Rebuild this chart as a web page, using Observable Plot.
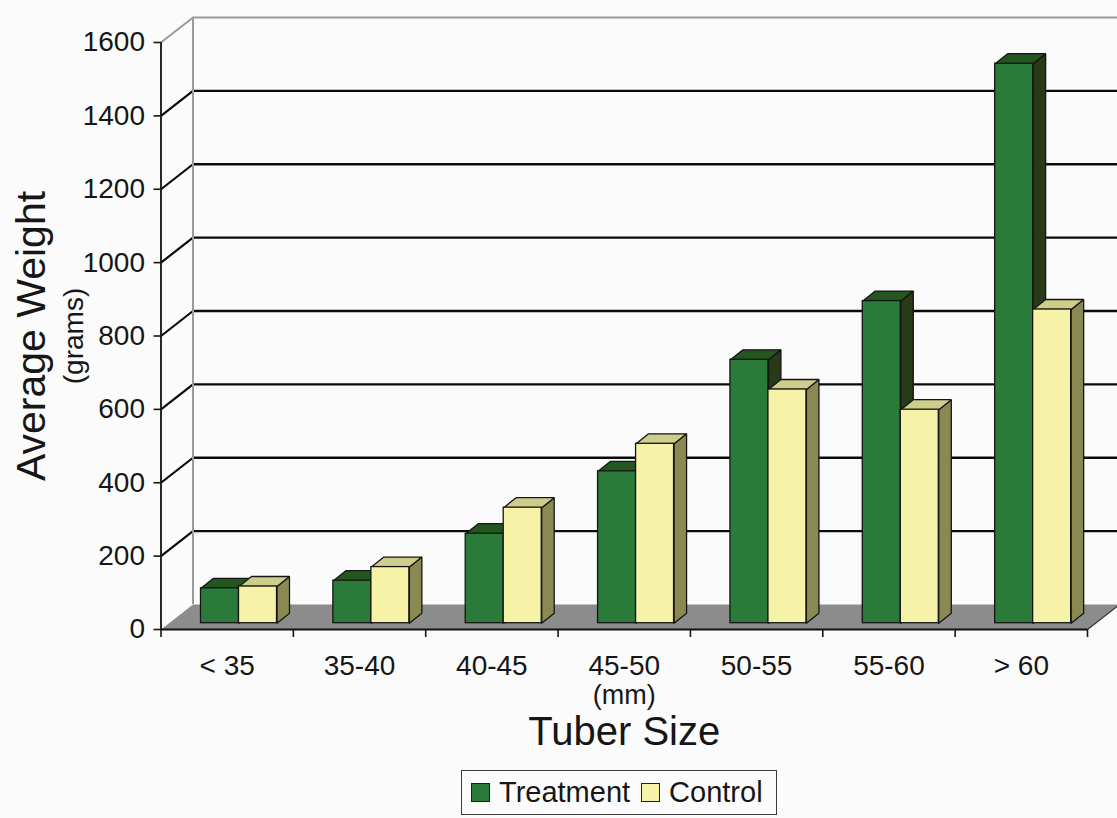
<!DOCTYPE html>
<html>
<head>
<meta charset="utf-8">
<script src="https://cdn.jsdelivr.net/npm/d3@7"></script>
<script src="https://cdn.jsdelivr.net/npm/@observablehq/plot@0.6"></script>
<style>
  html, body { margin: 0; padding: 0; background: #fbfbfb; overflow: hidden; }
  body { width: 1117px; height: 818px; position: relative; font-family: "Liberation Sans", Arial, sans-serif; color: #161616; }
  #legend { position: absolute; left: 461px; top: 770px; width: 316px; height: 45px; box-sizing: border-box;
            border: 1.5px solid #3c3c3c; display: flex; align-items: center; padding-left: 9px;
            font-size: 29px; background: #fbfbfb; }
  #legend .item { display: flex; align-items: center; margin-right: 11px; white-space: nowrap; }
  #legend .sw { width: 19px; height: 19px; border: 1px solid #1e1e1e; margin-right: 9px; box-sizing: border-box; }
</style>
</head>
<body>
<div id="chart"></div>
<div id="legend"></div>
<script>
// ---- data ----
const categories = ["< 35", "35-40", "40-45", "45-50", "50-55", "55-60", "> 60"];
const treatment = [95, 116, 244, 414, 718, 878, 1525];
const control   = [100, 153, 315, 489, 637, 582, 855];
const seriesNames = ["Treatment", "Control"];
const yTicks = [0, 200, 400, 600, 800, 1000, 1200, 1400, 1600];

// ---- styles / layout ----
const palette = {
  Treatment: {front: "#2a7a3a", top: "#24561f", side: "#283a18"},
  Control:   {front: "#f6f3a8", top: "#cfcd8c", side: "#8b8952"}
};
const W = 1117, H = 762;
const M = {top: 42, right: 30, bottom: 133, left: 160.5};
const yMax = 1600;
const kx = (W - M.left - M.right) / categories.length;   // px per category
const ky = (H - M.top - M.bottom) / yMax;                 // px per gram
const ux = 1 / kx, uy = 1 / ky;                           // data units per px
const wall = {dx: 32 * ux, dy: 25 * uy};                  // floor / wall depth
const barLead = 40 * ux, barW = 38 * ux;                  // bar placement within category
const barBase = 6.3 * uy;                                 // bars sit a little behind the front edge
const depth = {dx: 12.5 * ux, dy: 10 * uy};               // bar 3D depth
const rightEdge = (W - M.left) * ux;

const valuesBySeries = [treatment, control];
const bars = categories.flatMap((c, i) => seriesNames.map((s, j) => {
  const x1 = i + barLead + j * barW;
  return {cat: c, series: s, id: s + i, value: valuesBySeries[j][i],
          x1, x2: x1 + barW, y0: barBase, yt: valuesBySeries[j][i] + barBase};
}));
const topPts = bars.flatMap(b => [
  [b.x1, b.yt], [b.x2, b.yt], [b.x2 + depth.dx, b.yt + depth.dy], [b.x1 + depth.dx, b.yt + depth.dy], [b.x1, b.yt]
].map(([x, y]) => ({x, y, id: b.id, series: b.series})));
const sidePts = bars.flatMap(b => [
  [b.x2, b.y0], [b.x2, b.yt], [b.x2 + depth.dx, b.yt + depth.dy], [b.x2 + depth.dx, b.y0 + depth.dy], [b.x2, b.y0]
].map(([x, y]) => ({x, y, id: b.id, series: b.series})));

const n = categories.length;
const floor = [[0, 0], [n, 0], [n + wall.dx, wall.dy], [wall.dx, wall.dy]].map(([x, y]) => ({x, y}));
const innerTicks = yTicks.filter(t => t > 0 && t < yMax);

const edge = "#151515";
const faceMarks = [];
for (const s of seriesNames) {
  faceMarks.push(
    Plot.line(sidePts.filter(d => d.series === s), {x: "x", y: "y", z: "id", fill: palette[s].side, stroke: edge, strokeWidth: 1.3, strokeLinejoin: "miter"}),
    Plot.line(topPts.filter(d => d.series === s), {x: "x", y: "y", z: "id", fill: palette[s].top, stroke: edge, strokeWidth: 1.3, strokeLinejoin: "miter"}),
    Plot.rect(bars.filter(d => d.series === s), {x1: "x1", x2: "x2", y1: "y0", y2: "yt", fill: palette[s].front, stroke: edge, strokeWidth: 1.3})
  );
}

const chart = Plot.plot({
  width: W, height: H,
  marginTop: M.top, marginRight: M.right, marginBottom: M.bottom, marginLeft: M.left,
  style: {background: "#fbfbfb", fontFamily: "'Liberation Sans', Arial, sans-serif", color: "#161616", overflow: "visible"},
  x: {type: "linear", domain: [0, n], range: [M.left, W - M.right]},
  y: {type: "linear", domain: [0, yMax], range: [H - M.bottom, M.top]},
  marks: [
    // floor
    Plot.line([...floor, floor[0]], {x: "x", y: "y", fill: "#8d8c8d", stroke: "none"}),
    Plot.link([0], {x1: n, y1: 0, x2: n + wall.dx, y2: wall.dy, stroke: "#333", strokeWidth: 1.2}),
    // back wall gridlines
    Plot.ruleY(innerTicks, {y: d => d + wall.dy, x1: wall.dx, x2: rightEdge, stroke: "#0a0a0a", strokeWidth: 2.3}),
    // side wall diagonals
    Plot.link(innerTicks, {x1: 0, y1: d => d, x2: wall.dx, y2: d => d + wall.dy, stroke: "#0a0a0a", strokeWidth: 2.2}),
    // wall outline (top & back-left edge)
    Plot.link([yMax], {x1: 0, y1: d => d, x2: wall.dx, y2: d => d + wall.dy, stroke: "#9a9a9a", strokeWidth: 2}),
    Plot.ruleY([yMax], {y: d => d + wall.dy, x1: wall.dx, x2: rightEdge, stroke: "#9a9a9a", strokeWidth: 2}),
    Plot.ruleX([wall.dx], {y1: wall.dy, y2: yMax + wall.dy, stroke: "#9a9a9a", strokeWidth: 2}),
    // bars
    ...faceMarks,
    // axes
    Plot.ruleX([0], {y1: 0, y2: yMax, stroke: "#111", strokeWidth: 1.8}),
    Plot.ruleY([0], {x1: 0, x2: n, stroke: "#111", strokeWidth: 1.8}),
    Plot.axisY(yTicks, {tickSize: 7, tickPadding: 9, fontSize: 28, tickFormat: d => String(d), label: null, strokeWidth: 1.6}),
    Plot.axisX(d3.range(n + 1), {tickSize: 8, tickFormat: () => "", label: null, strokeWidth: 1.6}),
    Plot.text(categories, {x: (d, i) => i + 0.5, y: 0, text: d => d, dy: 37, fontSize: 28, lineAnchor: "middle"}),
    // titles
    Plot.text(["(mm)"], {frameAnchor: "bottom", text: d => d, dy: 66, fontSize: 27, lineAnchor: "middle"}),
    Plot.text(["Tuber Size"], {frameAnchor: "bottom", text: d => d, dy: 103, fontSize: 40, lineAnchor: "middle"}),
    Plot.text(["Average Weight"], {frameAnchor: "left", textAnchor: "middle", text: d => d, rotate: -90, dx: -129, fontSize: 41, lineAnchor: "middle"}),
    Plot.text(["(grams)"], {frameAnchor: "left", textAnchor: "middle", text: d => d, rotate: -90, dx: -87, fontSize: 28, lineAnchor: "middle"})
  ]
});
document.getElementById("chart").appendChild(chart);

// legend
const legend = document.getElementById("legend");
for (const s of seriesNames) {
  const item = document.createElement("div");
  item.className = "item";
  const sw = document.createElement("span");
  sw.className = "sw";
  sw.style.background = palette[s].front;
  const label = document.createElement("span");
  label.textContent = s;
  item.append(sw, label);
  legend.appendChild(item);
}
</script>
</body>
</html>
